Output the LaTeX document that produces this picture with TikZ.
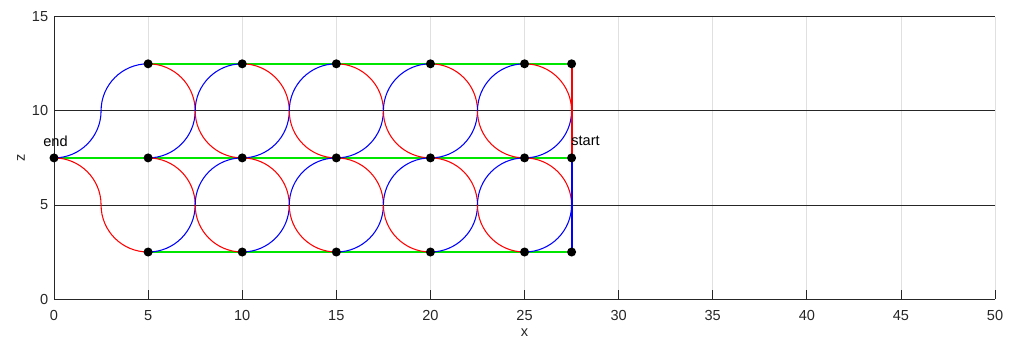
\documentclass[tikz,border=0pt]{standalone}
\usepackage{fontspec}
\setmainfont{Liberation Sans}
\usetikzlibrary{arrows.meta,calc,positioning}
\usepackage{xcolor}
\definecolor{PlotAxis}{HTML}{262626}
\definecolor{PlotGrid}{HTML}{E0E0E0}
\definecolor{PathRed}{HTML}{FF0000}
\definecolor{PathBlue}{HTML}{0000FF}
\definecolor{PathGreen}{HTML}{00E600}

\begin{document}
\begin{tikzpicture}[
  x=0.5cm,y=0.5cm,font=\fontsize{11}{13}\selectfont,
  axisline/.style={draw=PlotAxis,line width=0.6pt},
  gridline/.style={draw=PlotGrid,line width=0.6pt},
  ticklabel/.style={text=PlotAxis,inner sep=0pt},
  redarc/.style={draw=PathRed,line width=0.8pt},
  bluearc/.style={draw=PathBlue,line width=0.8pt},
  greenline/.style={draw=PathGreen,line width=1.3pt},
  dot/.style={circle,fill=black,inner sep=0pt,minimum size=0.24cm},
  tag/.style={text=black,inner sep=0pt}
]
\useasboundingbox (-2.87,-2.16) rectangle (51.06,15.89);

% grid and axes
\foreach \gx in {5,10,...,50}
  \draw[gridline] (\gx,0) -- (\gx,15);
\foreach \gz in {5,10,15}
  \draw[axisline] (0,\gz) -- (50,\gz);
\draw[axisline] (0,15) -- (0,0) -- (50,0);
\foreach \gx in {0,5,...,50} {
  \draw[axisline] (\gx,0) -- (\gx,0.48);
  \node[ticklabel] (xt\gx) at (\gx,-0.87) {\gx};
}
\foreach \gz in {0,5,10,15} {
  \draw[axisline] (0,\gz) -- (0.48,\gz);
  \node[ticklabel,anchor=east] (zt\gz) at (-0.3,\gz) {\gz};
}
\node[ticklabel] (xlabel) at (25,-1.8) {x};
\node[ticklabel,rotate=90] (zlabel) at (-1.75,7.5) {z};

% path points
\foreach \cx/\nm in {5/a,10/b,15/c,20/d,25/e,27.5/f} {
  \coordinate (top\nm) at (\cx,12.5);
  \coordinate (mid\nm) at (\cx,7.5);
  \coordinate (bot\nm) at (\cx,2.5);
}
\coordinate (end) at (0,7.5);

\draw[greenline] (topa) -- (topf);
\draw[greenline] (end) -- (midf);
\draw[greenline] (bota) -- (botf);

% quarter circles, radius 2.5
\foreach \cx in {5,10,...,25} {
  \draw[bluearc] (\cx-2.5,10) arc[start angle=180,end angle=90,radius=2.5];
  \draw[redarc] (\cx,12.5) arc[start angle=90,end angle=0,radius=2.5];
  \draw[bluearc] (\cx+2.5,10) arc[start angle=0,end angle=-90,radius=2.5];
  \draw[redarc] (\cx,7.5) arc[start angle=90,end angle=0,radius=2.5];
  \draw[bluearc] (\cx+2.5,5) arc[start angle=0,end angle=-90,radius=2.5];
  \draw[redarc] (\cx-2.5,5) arc[start angle=180,end angle=270,radius=2.5];
}
\foreach \cx in {10,15,...,25} {
  \draw[redarc] (\cx-2.5,10) arc[start angle=180,end angle=270,radius=2.5];
  \draw[bluearc] (\cx-2.5,5) arc[start angle=180,end angle=90,radius=2.5];
}
\draw[bluearc] (end) arc[start angle=-90,end angle=0,radius=2.5];
\draw[redarc] (end) arc[start angle=90,end angle=0,radius=2.5];

\draw[redarc,line width=1.6pt] (topf) -- (midf);
\draw[bluearc,line width=1.6pt] (midf) -- (botf);

% dots on top
\foreach \nm in {a,b,c,d,e,f} {
  \node[dot] (dtop\nm) at (top\nm) {};
  \node[dot] (dmid\nm) at (mid\nm) {};
  \node[dot] (dbot\nm) at (bot\nm) {};
}
\node[dot] (dend) at (end) {};

\node[tag] (endlabel) at (0.08,8.4) {end};
\node[tag] (startlabel) at (28.24,8.4) {start};

\end{tikzpicture}
\end{document}
